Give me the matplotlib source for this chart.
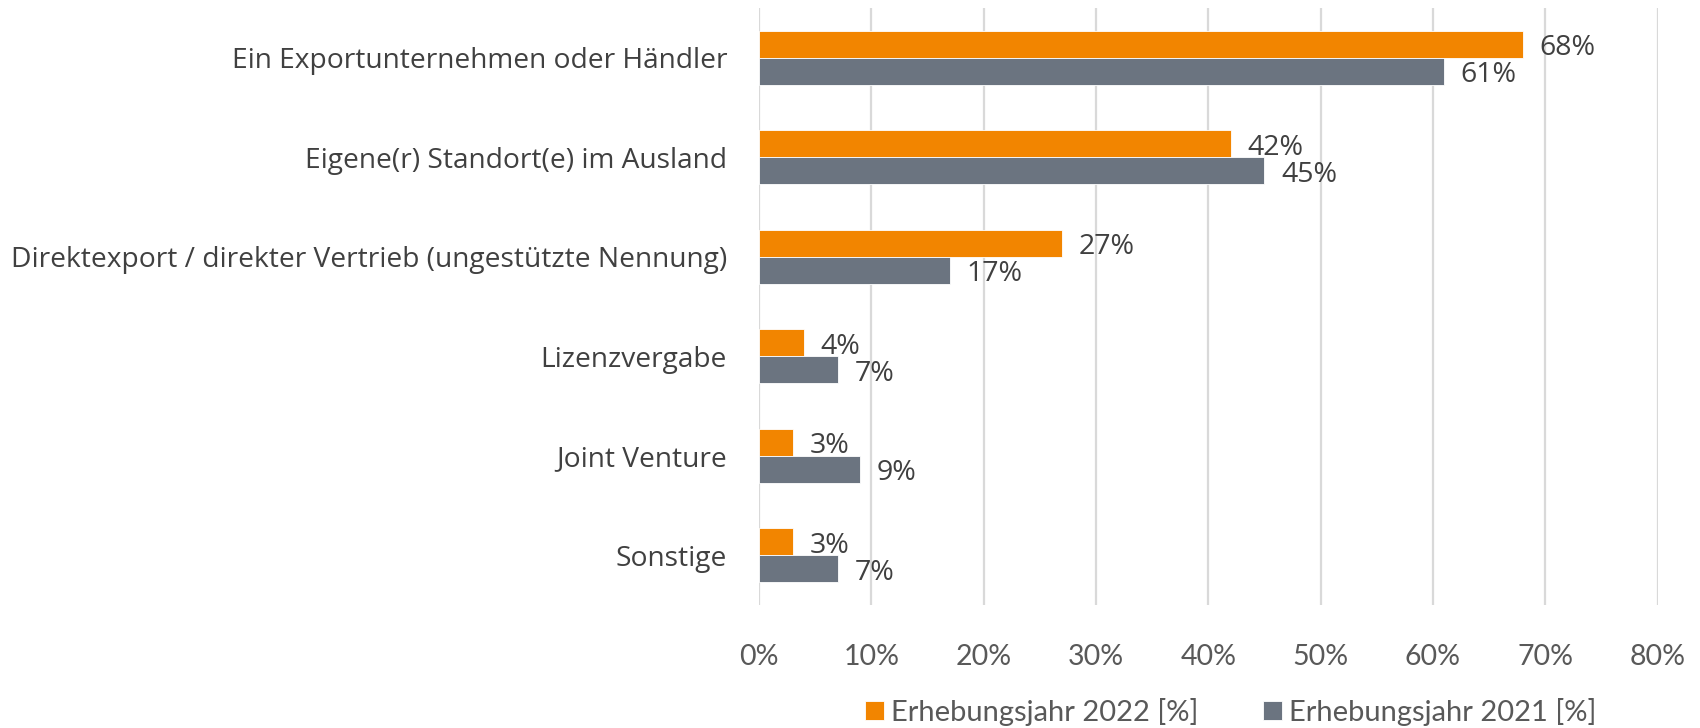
import numpy as np
import matplotlib.pyplot as plt

plt.rcParams['font.family'] = ['Lato', 'DejaVu Sans']

# --- DATA ---
categories = ['Ein Exportunternehmen oder Händler',
              'Eigene(r) Standort(e) im Ausland',
              'Direktexport / direkter Vertrieb (ungestützte Nennung)',
              'Lizenzvergabe',
              'Joint Venture',
              'Sonstige']
values_2022 = [68, 42, 27, 4, 3, 3]
values_2021 = [61, 45, 17, 7, 9, 7]
series_names = ['Erhebungsjahr 2022 [%]', 'Erhebungsjahr 2021 [%]']
xticks = [0, 10, 20, 30, 40, 50, 60, 70, 80]

orange = '#F28500'
gray = '#6B7480'
text_col = '#595959'

fig = plt.figure(figsize=(17, 7.28), dpi=100)
ax = fig.add_axes([0.4465, 0.169, 0.5285, 0.820])

y = np.arange(len(categories))
h = 0.272
b1 = ax.barh(y - h / 2, values_2022, height=h, color=orange, edgecolor='white', linewidth=0.6,
             label=series_names[0], zorder=3)
b2 = ax.barh(y + h / 2, values_2021, height=h, color=gray, edgecolor='white', linewidth=0.6,
             label=series_names[1], zorder=3)

for bars in (b1, b2):
    for bar in bars:
        w = bar.get_width()
        ax.annotate(f"{w:.0f}%", (w, bar.get_y() + bar.get_height() / 2),
                    xytext=(12, -3), textcoords='offset points', ha='left', va='center',
                    fontsize=20.5, color='#404040', family=['Open Sans', 'DejaVu Sans'])

ax.set_xlim(0, 80)
ax.set_ylim(len(categories) - 0.5, -0.5)
ax.set_xticks(xticks)
ax.set_xticklabels([f"{t}%" for t in xticks], fontsize=20.5, color=text_col)
ax.set_yticks(y)
ax.set_yticklabels(categories, fontsize=20.25, color='#404040', family=['Open Sans', 'DejaVu Sans'])
ax.tick_params(axis='both', length=0)
ax.tick_params(axis='x', pad=28)
ax.tick_params(axis='y', pad=23)

ax.grid(True, axis='x', color='#D9D9D9', linewidth=1.6, zorder=0)
for s in ax.spines.values():
    s.set_visible(False)

leg = fig.legend(handles=[b1, b2], labels=series_names, loc='center', bbox_to_anchor=(0.724, 0.022),
                 ncol=2, frameon=False, fontsize=21, handlelength=0.65, handleheight=0.65,
                 handletextpad=0.25, columnspacing=2.2)
for t in leg.get_texts():
    t.set_color(text_col)

plt.savefig('out.png', dpi=100)
plt.close()
